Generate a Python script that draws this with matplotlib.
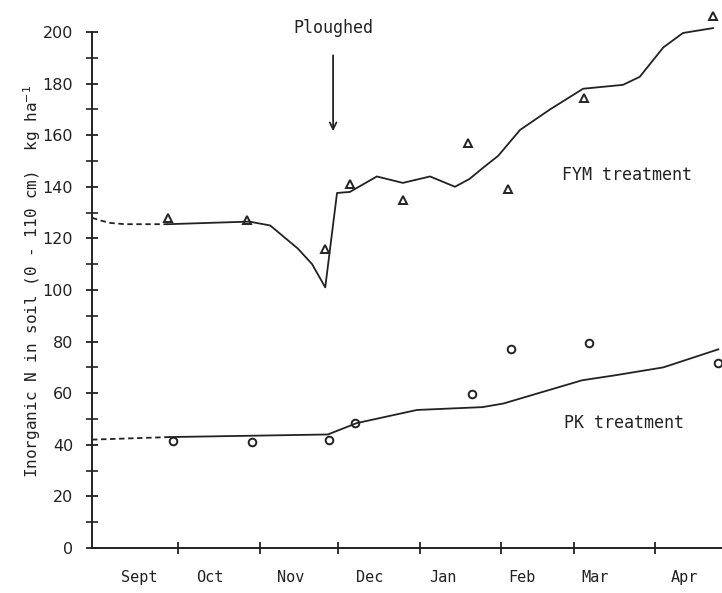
import matplotlib
matplotlib.use("Agg")
import matplotlib.pyplot as plt
from matplotlib.ticker import FixedLocator

# x values are days from 1 September
months = ["Sept", "Oct", "Nov", "Dec", "Jan", "Feb", "Mar", "Apr"]
month_label_days = [15, 42, 73, 103, 131, 161, 189, 223]
month_ticks = [30, 61, 91, 122, 153, 181, 212]
y_major = [0, 20, 40, 60, 80, 100, 120, 140, 160, 180, 200]
y_minor = [10, 30, 50, 70, 90, 110, 130, 150, 170, 190]

# FYM treatment (triangles = measured, line = simulated)
fym_obs_day = [26, 56, 86, 95.4, 115.6, 140.5, 155.7, 184.7, 234]
fym_obs_n = [128, 127, 116, 141, 135, 157, 139, 174.4, 206]
fym_dash_day = [-3, 0, 3.8, 9.5, 26]
fym_dash_n = [128, 127, 126, 125.5, 125.5]
fym_line_day = [26, 57, 65, 75.6, 81, 86, 90.5, 95.4, 105.7, 115.6, 126, 135.5,
                141, 147, 152, 160.3, 171.8, 184.4, 199.6, 206, 215, 222.5, 234]
fym_line_n = [125.5, 126.5, 125, 116, 110, 101, 137.6, 138, 144, 141.5, 144, 140,
              143, 148, 152, 162, 170, 178, 179.5, 182.6, 194, 199.6, 201.5]

# PK treatment (circles = measured, line = simulated)
pk_obs_day = [28, 58, 87.4, 97.3, 142, 157, 186.6, 236]
pk_obs_n = [41.5, 41, 42, 48.5, 59.7, 77, 79.5, 71.7]
pk_dash_day = [-3, 26.7]
pk_dash_n = [42, 43]
pk_line_day = [26.7, 57, 87, 98, 121, 146, 154, 184, 197, 215, 236]
pk_line_n = [43, 43.5, 44, 48.4, 53.5, 54.6, 56, 65, 67, 70, 77]

MONO = "DejaVu Sans Mono"

fig = plt.figure(figsize=(7.22, 5.93), dpi=100)
W, H = 722, 593
x0, x1 = -3, 237.4
y0, y1 = -5, 212
left = 92 / W
bottom = (H - 560.9) / H
ax = fig.add_axes([left, bottom, 630 / W, (560.9 - 1.0) / H])
ax.set_xlim(x0, x1)
ax.set_ylim(y0, y1)

lc = "#222222"
ax.plot(fym_dash_day, fym_dash_n, color=lc, lw=1.3, ls=(0, (3, 2)))
ax.plot(fym_line_day, fym_line_n, color=lc, lw=1.3)
ax.plot(fym_obs_day, fym_obs_n, ls="none", marker="^", ms=6, mfc="none",
        mec=lc, mew=1.4, clip_on=False)
ax.plot(pk_dash_day, pk_dash_n, color=lc, lw=1.3, ls=(0, (3, 2)))
ax.plot(pk_line_day, pk_line_n, color=lc, lw=1.3)
ax.plot(pk_obs_day, pk_obs_n, ls="none", marker="o", ms=5.5, mfc="none",
        mec=lc, mew=1.4, clip_on=False)

for s in ["top", "right"]:
    ax.spines[s].set_visible(False)
ax.spines["left"].set_bounds(0, 200)
ax.spines["bottom"].set_position(("data", 0))
ax.spines["left"].set_linewidth(1.4)
ax.spines["bottom"].set_linewidth(1.4)
ax.spines["left"].set_color(lc)
ax.spines["bottom"].set_color(lc)

ax.yaxis.set_major_locator(FixedLocator(y_major))
ax.yaxis.set_minor_locator(FixedLocator(y_minor))
ax.tick_params(axis="y", which="major", direction="inout", length=9, width=1.3,
               labelsize=11.5, colors=lc, pad=9)
ax.tick_params(axis="y", which="minor", direction="inout", length=8, width=1.2, colors=lc)
ax.set_xticks(month_ticks)
ax.set_xticklabels([])
ax.tick_params(axis="x", which="major", direction="inout", length=8, width=1.3, colors=lc)

for d, m in zip(month_label_days, months):
    ax.text(d, -11.5, m, ha="center", va="center", fontsize=11, color=lc, family=MONO)

ax.set_ylabel("Inorganic N in soil (0 - 110 cm)  kg ha$^{-1}$", fontsize=11.5, color=lc,
              labelpad=0, family=MONO)

ax.text(89, 201.5, "Ploughed", ha="center", va="center", fontsize=12, color=lc, family=MONO)
ax.annotate("", xy=(89, 160.5), xytext=(89, 192),
            arrowprops=dict(arrowstyle="->", color=lc, lw=1.3, mutation_scale=12))

ax.text(201, 144.5, "FYM treatment", ha="center", va="center", fontsize=12, color=lc,
        family=MONO)
ax.text(200, 48.5, "PK treatment", ha="center", va="center", fontsize=12, color=lc,
        family=MONO)

fig.savefig("out.png", dpi=100)
